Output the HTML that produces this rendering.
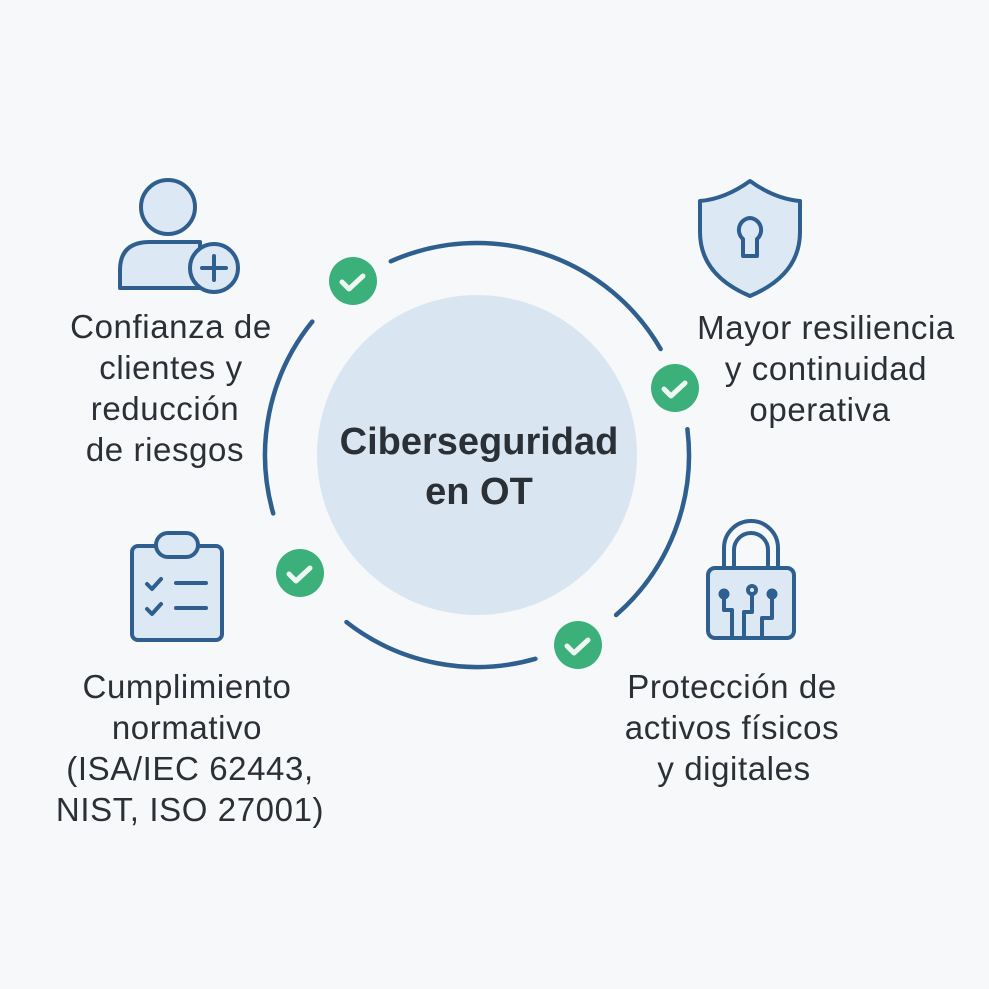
<!DOCTYPE html>
<html><head><meta charset="utf-8"><style>
html,body{margin:0;padding:0;background:#f7f8f9;}
svg{display:block}
text{font-family:"Liberation Sans",Arial,sans-serif;fill:#2b2f36;}
</style></head><body>
<svg width="989" height="989" viewBox="0 0 989 989" xmlns="http://www.w3.org/2000/svg">
<rect width="989" height="989" fill="#f7f8f9"/>
<circle cx="477" cy="455" r="160" fill="#d9e6f2"/>
<g fill="none" stroke="#2f5f8f" stroke-width="4.5" stroke-linecap="round">
<path d="M390.8 261.3 A212 212 0 0 1 660.6 349"/>
<path d="M687.4 429.2 A212 212 0 0 1 616.1 615"/>
<path d="M535.4 658.8 A212 212 0 0 1 346.5 622.1"/>
<path d="M273.2 513.4 A212 212 0 0 1 312.3 321.6"/>
</g>
<g>
<circle cx="353" cy="281" r="24" fill="#3bb07a"/>
<circle cx="675" cy="388" r="24" fill="#3bb07a"/>
<circle cx="300" cy="573" r="24" fill="#3bb07a"/>
<circle cx="578" cy="645" r="24" fill="#3bb07a"/>
<g fill="none" stroke="#eef7f1" stroke-width="5" stroke-linecap="round" stroke-linejoin="round">
<path d="M342 282 l7 7 l14 -13"/>
<path d="M664 389 l7 7 l14 -13"/>
<path d="M289 574 l7 7 l14 -13"/>
<path d="M567 646 l7 7 l14 -13"/>
</g>
</g>
<text x="479" y="454" font-size="38" font-weight="bold" text-anchor="middle">Ciberseguridad</text>
<text x="479" y="504" font-size="38" font-weight="bold" text-anchor="middle">en OT</text>

<g stroke="#2f5f8f" stroke-width="4" fill="#dce8f3" stroke-linejoin="round">
<circle cx="168" cy="207" r="27"/>
<path d="M120 288 L120 270 Q120 242 150 242 L200 242 L200 288 Z"/>
<circle cx="214" cy="268" r="24"/>
<path d="M214 256 v24 M202 268 h24" fill="none" stroke-linecap="round"/>
</g>
<g stroke="#2f5f8f" stroke-width="4" fill="#dce8f3" stroke-linejoin="round">
<path d="M750 181 Q725 199 700 201 L700 232 Q700 275 750 296 Q800 275 800 232 L800 201 Q775 199 750 181 Z"/>
<path d="M750 218 a12 12 0 0 1 7 21 v17 h-14 v-17 a12 12 0 0 1 7 -21 z"/>
</g>
<g stroke="#2f5f8f" stroke-width="4" fill="#dce8f3" stroke-linejoin="round" stroke-linecap="round">
<rect x="132" y="546" width="90" height="94" rx="6"/>
<rect x="156" y="533" width="42" height="24" rx="12"/>
<path d="M147 584 l5 5 l9 -10 M147 609 l5 5 l9 -10 M176 583 h30 M176 608 h30" fill="none"/>
</g>
<g stroke="#2f5f8f" stroke-width="4" fill="#dce8f3" stroke-linejoin="round" stroke-linecap="round">
<path d="M724 568 v-20 a27 27 0 0 1 54 0 v20" fill="none"/>
<path d="M734 568 v-18 a17 17 0 0 1 34 0 v18" fill="none"/>
<rect x="708" y="568" width="86" height="70" rx="7"/>
<path d="M724 596 v14 h8 v28 M752 594 v18 h-8 v26 M772 596 v22 h-10 v20" fill="none"/>
<circle cx="724" cy="594" r="3.5" fill="#2f5f8f"/>
<circle cx="752" cy="590" r="4" fill="#dce8f3"/>
<circle cx="772" cy="594" r="3.5" fill="#2f5f8f"/>
</g>

<g font-size="33" letter-spacing="0.6" text-anchor="middle">
<text x="171" y="338">Confianza de</text>
<text x="171" y="379">clientes y</text>
<text x="165" y="420">reducción</text>
<text x="165" y="461">de riesgos</text>
<text x="826" y="339">Mayor resiliencia</text>
<text x="826" y="380">y continuidad</text>
<text x="820" y="421">operativa</text>
<text x="187" y="698">Cumplimiento</text>
<text x="187" y="739">normativo</text>
<text x="190" y="780">(ISA/IEC 62443,</text>
<text x="190" y="821">NIST, ISO 27001)</text>
<text x="732" y="698">Protección de</text>
<text x="732" y="739">activos físicos</text>
<text x="734" y="780">y digitales</text>
</g>
</svg>
</body></html>
